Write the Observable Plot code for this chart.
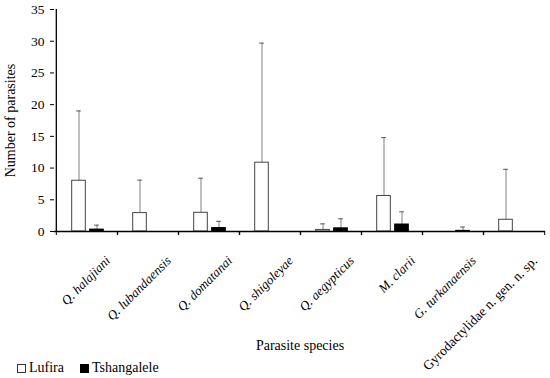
<!DOCTYPE html>
<html>
<head>
<meta charset="utf-8">
<script src="https://cdn.jsdelivr.net/npm/d3@7"></script>
<script src="https://cdn.jsdelivr.net/npm/@observablehq/plot@0.6"></script>
<style>
  body { margin: 0; background: #fff; }
  #wrap { position: relative; width: 550px; height: 378px; }
  #legend { position: absolute; left: 17px; top: 359px; display: flex; gap: 16px; font-size: 14px; color: #000; height: 18px; align-items: center; font-family: "Liberation Serif"; }
  #legend span.sw { display: inline-block; width: 9px; height: 9px; box-sizing: border-box; border: 1px solid #333; margin-right: 3px; vertical-align: -1px; }
</style>
</head>
<body>
<div id="wrap">
<div id="chart"></div>
<div id="legend">
  <div><span class="sw" style="background:#fff"></span>Lufira</div>
  <div><span class="sw" style="background:#000;border-color:#000"></span>Tshangalele</div>
</div>
</div>
<script>
const species = ["Q. halajiani", "Q. lubandaensis", "Q. domatanai", "Q. shigoleyae", "Q. aegypticus", "M. clarii", "G. turkanaensis", "Gyrodactylidae n. gen. n. sp."];
const italic = [true, true, true, true, true, true, true, false];
const lufiraMean = [8.0, 2.9, 2.95, 10.85, 0.25, 5.6, 0, 1.85];
const lufiraUpper = [19.0, 8.1, 8.4, 29.7, 1.2, 14.8, null, 9.8];
const tshMean = [0.3, 0, 0.55, 0, 0.5, 1.1, 0.1, 0];
const tshUpper = [1.0, null, 1.6, null, 2.0, 3.1, 0.7, null];
const yTicks = [0, 5, 10, 15, 20, 25, 30, 35];

const FONT = "Liberation Serif";
const W = 550, H = 378, mL = 54, mR = 5, mT = 9, mB = 147;
const bw = (W - mL - mR) / species.length;
const barW = 14;
const offL = -8, offT = 10; // bar centre offsets from band centre

const rows = [];
species.forEach((s, i) => {
  rows.push({species: s, site: "Lufira", mean: lufiraMean[i], upper: lufiraUpper[i]});
  rows.push({species: s, site: "Tshangalele", mean: tshMean[i], upper: tshUpper[i]});
});
const luf = rows.filter(d => d.site === "Lufira");
const tsh = rows.filter(d => d.site === "Tshangalele");
const err = (arr) => arr.filter(d => d.upper != null);

function barInsets(off) {
  const left = bw / 2 + off - barW / 2;
  return {insetLeft: left, insetRight: bw - left - barW};
}
function capInsets(off) {
  const cw = 5;
  const left = bw / 2 + off - cw / 2;
  return {insetLeft: left, insetRight: bw - left - cw};
}

const chart = Plot.plot({
  width: W, height: H,
  marginLeft: mL, marginRight: mR, marginTop: mT, marginBottom: mB,
  style: {fontFamily: FONT, fontSize: "13px", color: "#000", background: "transparent"},
  x: {type: "band", domain: species, padding: 0, axis: null},
  y: {domain: [0, 35], axis: null},
  marks: [
    // error bars
    Plot.ruleX(err(luf), {x: "species", y1: "mean", y2: "upper", dx: offL, stroke: "#808080", strokeWidth: 1}),
    Plot.ruleX(err(tsh), {x: "species", y1: "mean", y2: "upper", dx: offT, stroke: "#808080", strokeWidth: 1}),
    Plot.tickY(err(luf), {x: "species", y: "upper", stroke: "#555", strokeWidth: 1, ...capInsets(offL)}),
    Plot.tickY(err(tsh), {x: "species", y: "upper", stroke: "#555", strokeWidth: 1, ...capInsets(offT)}),
    // bars
    Plot.barY(luf, {x: "species", y: "mean", fill: "#fff", stroke: "#444", strokeWidth: 1, ...barInsets(offL)}),
    Plot.barY(tsh, {x: "species", y: "mean", fill: "#000", stroke: "#000", strokeWidth: 1, ...barInsets(offT)}),
    // axes
    Plot.axisY({ticks: yTicks, tickSize: 4, tickPadding: 6, label: null, fontSize: 13.5, stroke: "#000"}),
    Plot.ruleX([species[0]], {x: d => d, y1: 0, y2: 35, dx: -bw / 2, stroke: "#000", strokeWidth: 1.3}),
    Plot.ruleY([0], {stroke: "#000", strokeWidth: 1.3}),
    Plot.axisX({text: null, tickSize: 4, dx: -bw / 2, stroke: "#000", label: null}),
    Plot.axisX({text: null, tickSize: 4, dx: bw / 2, stroke: "#000", label: null}),
    Plot.text(species.filter((s, i) => italic[i]), {x: d => d, y: 0, rotate: -45, textAnchor: "end", dx: 21, dy: 27, fontStyle: "italic", fontSize: 13}),
    Plot.text(species.filter((s, i) => !italic[i]), {x: d => d, y: 0, rotate: -45, textAnchor: "end", dx: 21, dy: 27, fontSize: 13.5}),
    Plot.text(["Number of parasites"], {frameAnchor: "left", textAnchor: "middle", dx: -44, rotate: -90, fontSize: 14}),
    Plot.text(["Parasite species"], {frameAnchor: "bottom", dy: 118, fontSize: 14})
  ]
});
document.getElementById("chart").appendChild(chart);
</script>
</body>
</html>
